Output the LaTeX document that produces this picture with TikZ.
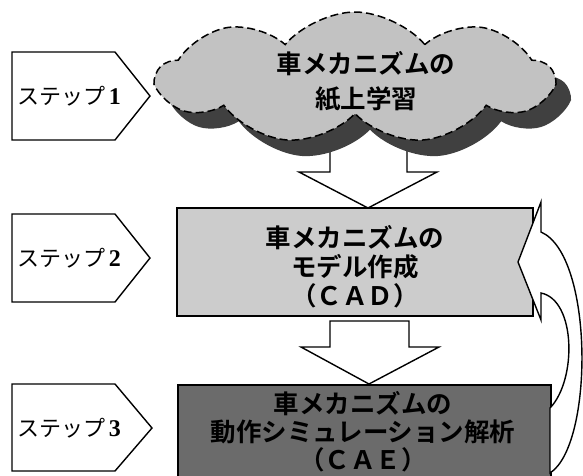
\documentclass[tikz,border=0pt]{standalone}
\usepackage{fontspec}
\newfontfamily\jp{Noto Sans CJK JP}
\newfontfamily\jpb{Noto Sans CJK JP}[BoldFont={* Bold}]
\newfontfamily\digitfont{Liberation Serif Bold}
\usetikzlibrary{shapes.symbols}
\definecolor{cloudgray}{gray}{0.76}
\definecolor{shadowgray}{gray}{0.25}
\definecolor{cadgray}{gray}{0.80}
\definecolor{caegray}{gray}{0.42}
\tikzset{
  stepline/.style={draw=black, line width=1.4pt, fill=white, line join=miter},
  steptext/.style={font=\jp\fontsize{22}{24}\selectfont, inner sep=0pt},
  boxtext/.style={font=\jpb\bfseries\fontsize{25.5}{29}\selectfont, align=center, inner sep=0pt},
  blockarrow/.style={draw=black, line width=1.4pt, fill=white, line join=miter},
  cloudshape/.style={cloud, cloud puffs=9, cloud puff arc=100, aspect=2.9, minimum width=395pt, minimum height=132pt, inner sep=0pt}
}
\newcommand{\stepnum}[1]{{\digitfont\fontsize{24}{24}\selectfont #1}}
\begin{document}
\begin{tikzpicture}[x=1pt,y=-1pt]
\useasboundingbox (0,0) rectangle (583,475);
% step labels
\draw[stepline] (12,52) -- (115,52) -- (150,96) -- (115,140) -- (12,140) -- cycle;
\node[steptext] (s1) at (69,96) {ステップ\,\stepnum{1}};
\draw[stepline] (12,214) -- (115,214) -- (150,258) -- (115,302) -- (12,302) -- cycle;
\node[steptext] (s2) at (69,258) {ステップ\,\stepnum{2}};
\draw[stepline] (12,384) -- (115,384) -- (152,428) -- (115,471) -- (12,471) -- cycle;
\node[steptext] (s3) at (69,428) {ステップ\,\stepnum{3}};
% arrow 1 (behind cloud)
\coordinate (a1tip) at (368,208);
\draw[blockarrow] (330,130) -- (330,172) -- (299,172) -- (a1tip) -- (437,172) -- (407,172) -- (407,130);
% cloud shadow and cloud
\node[cloudshape, fill=shadowgray] (cloudshadow) at (370,94) {};
\node[cloudshape, fill=cloudgray, draw=black, line width=1.5pt, dash pattern=on 8pt off 4pt] (cloud) at (355,78) {};
\node[boxtext] (t1) at (366,81) {車メカニズムの\\[6pt]紙上学習};
% CAD box
\node[draw=black, line width=1.5pt, fill=cadgray, minimum width=356pt, minimum height=108pt, inner sep=0pt] (cad) at (355,262) {};
\node[boxtext] (t2) at (355,267) {車メカニズムの\\モデル作成\\（ＣＡＤ）};
% arrow 2
\coordinate (a2tip) at (369,384);
\draw[blockarrow] (330,347) -- (330,321) -- (409,321) -- (409,347) -- (439,347) -- (a2tip) -- (301,347) -- cycle;
% CAE box
\node[draw=black, line width=1.5pt, fill=caegray, minimum width=373pt, minimum height=120pt, inner sep=0pt, anchor=north west] (cae) at (177,384) {};
\node[boxtext, text=black, font=\jpb\bfseries\fontsize{25.5}{28}\selectfont] (t3) at (363,432) {車メカニズムの\\動作シミュレーション解析\\（ＣＡＥ）};
% curved return arrow
\draw[blockarrow] (518,262) -- (541,202) -- (541,232) .. controls (594,255) and (594,445) .. (550,473) -- (550,408) .. controls (577,380) and (576,300) .. (541,293) -- (541,320) -- cycle;
\end{tikzpicture}
\end{document}
